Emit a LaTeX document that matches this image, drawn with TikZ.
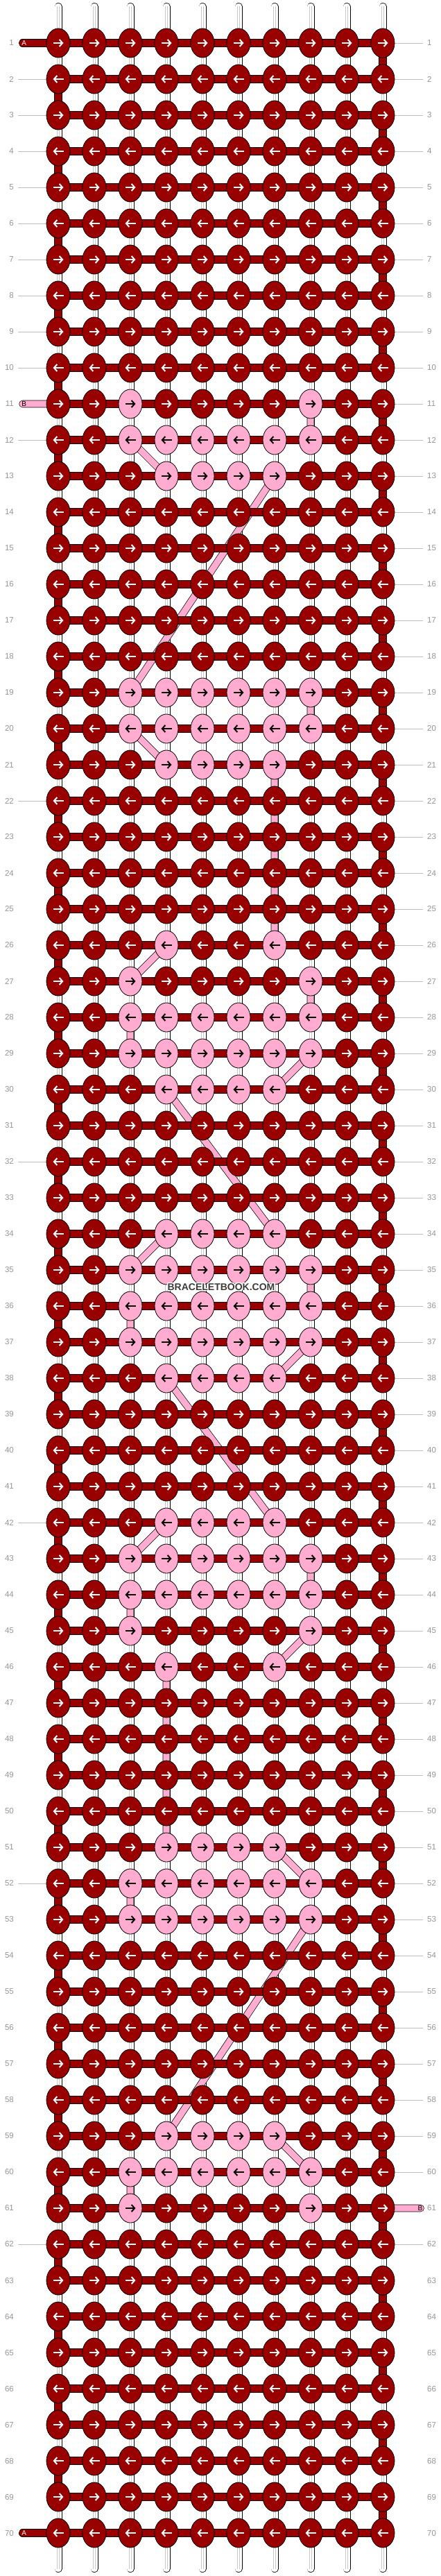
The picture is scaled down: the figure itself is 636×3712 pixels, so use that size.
\documentclass[tikz,border=0pt]{standalone}
\usepackage{fontspec}
\setmainfont{Liberation Sans}
\usepackage{contour}
\contourlength{1.2pt}
\usetikzlibrary{shapes.geometric,arrows.meta}

\definecolor{knotred}{RGB}{153,0,0}
\definecolor{knotpink}{RGB}{255,172,208}
\definecolor{labelgray}{RGB}{150,150,150}
\definecolor{tickgray}{RGB}{190,190,190}
\definecolor{brandgray}{RGB}{60,60,60}

\tikzset{
  thread/.style={draw=black,line width=0.7pt,double=white,double distance=9.6pt,line cap=round},
  threadcore/.style={draw=gray!45,line width=0.5pt,double=white,double distance=2.6pt},
  bar/.style={draw=black,line width=0.8pt,double=knotred,double distance=9.6pt,line cap=round},
  pinkbar/.style={draw=black,line width=0.7pt,double=knotpink,double distance=9.2pt,line cap=round,line join=round},
  knot/.style={ellipse,draw=black,line width=0.8pt,minimum width=34pt,minimum height=42pt,inner sep=0pt},
  knotarrow/.style={line width=2pt,-{Straight Barb[length=4.5pt,width=10pt]}},
  rowlab/.style={text=labelgray,font=\fontsize{11.5}{12}\selectfont,inner sep=0pt},
  tick/.style={draw=tickgray,line width=0.9pt,shorten <=6pt},
  pilltext/.style={font=\fontsize{10}{10}\selectfont,inner sep=0pt},
  wmark/.style={text=brandgray,font=\bfseries\fontsize{14}{14}\selectfont,inner sep=0pt}
}

\begin{document}
\begin{tikzpicture}[x=1pt,y=-1pt]

  \path[use as bounding box,fill=white] (0,0) rectangle (636,3712);

  \foreach \r in {1,...,70}
    \foreach \c in {1,...,10}
      \coordinate (g-\r-\c) at ({84+52*(\c-1)},{62+52*(\r-1)});

  \foreach \r/\cs in {11/{3,8},12/{3,...,8},13/{4,...,7},19/{3,...,8},20/{3,...,8},21/{4,...,7},
      26/{4,7},27/{3,8},28/{3,...,8},29/{3,...,8},30/{4,...,7},34/{4,...,7},35/{3,...,8},
      36/{3,...,8},37/{3,...,8},38/{4,...,7},42/{4,...,7},43/{3,...,8},44/{3,...,8},45/{3,8},
      46/{4,7},51/{4,...,7},52/{3,...,8},53/{3,...,8},59/{4,...,7},60/{3,...,8},61/{3,8}}
    {\foreach \c in \cs {\expandafter\gdef\csname pk-\r-\c\endcsname{}}}

  \foreach \c in {1,...,10}{
    \coordinate (top-\c) at ({84+52*(\c-1)},9.5);
    \coordinate (bot-\c) at ({84+52*(\c-1)},3701.5);
    \draw[thread] (top-\c) -- (bot-\c);
    \draw[threadcore] (top-\c) -- (bot-\c);
  }

  \begin{scope}[every node/.style={rowlab}]
    \foreach \r in {1,...,70}{
      \node[anchor=east] (ll-\r) at ([xshift=-64pt]g-\r-1) {\r};
      \node[anchor=west] (rl-\r) at ([xshift=64pt]g-\r-10) {\r};
    }
  \end{scope}

  \foreach \r in {2,...,10,12,...,69} \draw[tick] (ll-\r.east) -- (g-\r-1);
  \foreach \r in {1,...,60,62,...,70} \draw[tick] (rl-\r.west) -- (g-\r-10);

  \coordinate (a-top) at (32.6,62);
  \coordinate (a-bot) at (32.6,3650);
  \coordinate (b-in)  at (32.6,582);
  \coordinate (b-out) at (606.5,3182);

  \draw[pinkbar] (b-in)
    \foreach \p in {11-8,12-8,12-3,13-4,13-7,19-3,19-8,20-8,20-3,21-4,21-7,26-7,26-4,27-3,27-8,
      28-8,28-3,29-3,29-8,30-7,30-4,34-7,34-4,35-3,35-8,36-8,36-3,37-3,37-8,38-7,38-4,42-7,42-4,
      43-3,43-8,44-8,44-3,45-3,45-8,46-7,46-4,51-4,51-7,52-8,52-3,53-3,53-8,59-4,59-7,60-8,60-3,61-3}
    {-- (g-\p)} -- (b-out);

  \foreach \r in {1,3,...,69}{\pgfmathtruncatemacro\rn{\r+1}\draw[bar] (g-\r-10) -- (g-\rn-10);}
  \foreach \r in {2,4,...,68}{\pgfmathtruncatemacro\rn{\r+1}\draw[bar] (g-\r-1) -- (g-\rn-1);}

  \foreach \r in {1,...,70} \draw[bar] (g-\r-1) -- (g-\r-10);
  \draw[bar] (a-top) -- (g-1-1);
  \draw[bar] (a-bot) -- (g-70-1);

  \foreach \r in {1,...,70}{
    \foreach \c in {1,...,10}{
      \ifcsname pk-\r-\c\endcsname\def\kfill{knotpink}\def\karrow{black}\else\def\kfill{knotred}\def\karrow{white}\fi
      \ifodd\r\relax\def\kdir{1}\else\def\kdir{-1}\fi
      \node[knot,fill=\kfill,path picture={
          \draw[knotarrow,draw=\karrow] ([xshift={-7.5*\kdir}]path picture bounding box.center) -- ++({15*\kdir},0);
        }] (k-\r-\c) at (g-\r-\c) {};
    }
  }

  \begin{scope}[every node/.style={pilltext}]
    \node[text=white] (la-top) at ([xshift=2pt]a-top) {A};
    \node[text=white] (la-bot) at ([xshift=2pt]a-bot) {A};
    \node (lb-in)  at ([xshift=2pt]b-in) {B};
    \node (lb-out) at ([xshift=-0.5pt]b-out) {B};
  \end{scope}

  \node[wmark] (brand) at (319,1855) {\contour{white}{BRACELETBOOK.COM}};

\end{tikzpicture}
\end{document}
